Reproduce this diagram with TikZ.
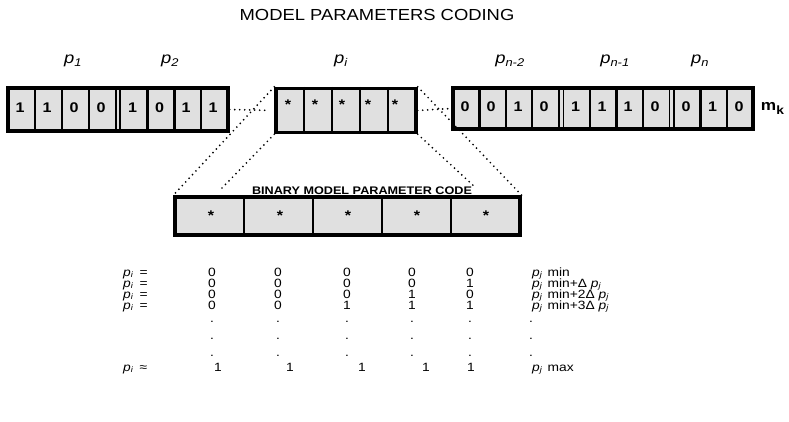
\documentclass[tikz,border=0pt]{standalone}
\usepackage{fontspec}
\setmainfont{Liberation Sans}[FakeStretch=1.15]
\usetikzlibrary{positioning}
\newcommand{\pp}[1]{\textit{p}\textsubscript{\textit{#1}}}

\begin{document}
\begin{tikzpicture}[
  x=1pt, y=-1pt,
  blk/.style={rectangle, draw=black, fill=black!12, line width=3.4pt,
    inner sep=0pt},
  sep/.style={line width=2.4pt},
  thinsep/.style={line width=1.8pt},
  dsep/.style={line width=1.5pt},
  bit/.style={font=\fontsize{14}{14}\selectfont\bfseries, inner sep=0pt},
  plabel/.style={font=\fontsize{16}{16}\selectfont, anchor=base, inner sep=0pt},
  cell/.style={font=\fontsize{12}{12}\selectfont, anchor=base, inner sep=0pt},
  dotline/.style={line width=1.9pt, line cap=round, dash pattern=on 0pt off 5pt},
]
  \useasboundingbox (0,0) rectangle (789,422);

  % Title and parameter names
  \node[font=\fontsize{16}{16}\selectfont, anchor=base] (title) at (377,21) {MODEL PARAMETERS CODING};
  \node[plabel] (p1) at (73,64) {\pp{1}};
  \node[plabel] (p2) at (170,64) {\pp{2}};
  \node[plabel] (pi) at (341,64) {\pp{i}};
  \node[plabel] (pn2) at (510,64) {\pp{n-2}};
  \node[plabel] (pn1) at (615,64) {\pp{n-1}};
  \node[plabel] (pn) at (700,64) {\pp{n}};

  % Chromosome m_k
  \node[blk, minimum width=220pt, minimum height=43pt] (leftblk) at (118,109.5) {};
  \node[blk, minimum width=140pt, minimum height=44pt] (midblk) at (346,110.5) {};
  \node[blk, minimum width=300pt, minimum height=41pt] (rightblk) at (603,108.5) {};
  \node[font=\fontsize{15}{15}\selectfont\bfseries, inner sep=0pt, right=6pt of rightblk] (mk)
    {m\raisebox{-4pt}{\fontsize{12}{12}\selectfont k}};

  \foreach \x in {34.9,61.8,88.7,147.4,174.3,201.2}
    \draw[sep] (\x,0 |- leftblk.north) -- (\x,0 |- leftblk.south);
  \foreach \x in {116,120}
    \draw[dsep] (\x,0 |- leftblk.north) -- (\x,0 |- leftblk.south);
  \foreach \d/\x [count=\i] in {1/20,1/47,0/74,0/101,1/132.5,0/159.5,1/186,1/213}
    \node[bit] (lbit\i) at (\x,107.5) {\d};

  \foreach \x in {304,332,360,388}
    \draw[sep] (\x,0 |- midblk.north) -- (\x,0 |- midblk.south);
  \foreach \x [count=\i] in {288,315,342,368,395}
    \node[bit] (mbit\i) at (\x,105) {*};

  \foreach \x in {479.4,505.8,532.2,590,616.4,642.8,700.6,727}
    \draw[sep] (\x,0 |- rightblk.north) -- (\x,0 |- rightblk.south);
  \foreach \x in {559,563.5,669.5,674}
    \draw[dsep] (\x,0 |- rightblk.north) -- (\x,0 |- rightblk.south);
  \foreach \d/\x [count=\i] in {0/465,0/491,1/518,0/544,1/575.5,1/602,1/628,0/655,0/686,1/712.5,0/739}
    \node[bit] (rbit\i) at (\x,106.5) {\d};

  % Binary code of one parameter
  \node[font=\fontsize{11}{11}\selectfont\bfseries, anchor=base] (code) at (362,194) {BINARY MODEL PARAMETER CODE};
  \node[blk, minimum width=345pt, minimum height=38pt] (lowblk) at (347.5,216) {};
  \foreach \x in {244,313,382,451}
    \draw[thinsep] (\x,0 |- lowblk.north) -- (\x,0 |- lowblk.south);
  \foreach \x [count=\i] in {211,280,348,417,486}
    \node[bit] (cbit\i) at (\x,216) {*};

  % Dotted links
  \coordinate (innL) at (222,188);
  \coordinate (innR) at (476,188);
  \draw[dotline, shorten >=9pt] (leftblk.east) -- (midblk.west);
  \draw[dotline] (midblk.east) -- (rightblk.west);
  \draw[dotline] (midblk.north west) -- (lowblk.north west);
  \draw[dotline] (midblk.north east) -- (lowblk.north east);
  \draw[dotline] (midblk.south west) -- (innL);
  \draw[dotline] (midblk.south east) -- (innR);

  % Table of codes
  \foreach \yy [count=\r] in {276,287,298,309}
    \node[cell, anchor=base west] (lab\r) at (123,\yy) {\pp{i}\hspace{6pt}=};
  \node[cell, anchor=base west] (labmax) at (123,371) {\pp{i}\hspace{6pt}≈};
  \foreach \x/\ra/\rb/\rc/\rd/\xl [count=\c] in
      {212/0/0/0/0/218, 278/0/0/0/0/290, 347/0/0/0/1/362, 412/0/0/1/1/426, 470/0/1/0/1/471} {
    \node[cell] (ta\c) at (\x,276) {\ra};
    \node[cell] (tb\c) at (\x,287) {\rb};
    \node[cell] (tc\c) at (\x,298) {\rc};
    \node[cell] (td\c) at (\x,309) {\rd};
    \foreach \yy [count=\k] in {322,339,356}
      \node[cell] (dot\c\k) at (\x,\yy) {.};
    \node[cell] (te\c) at (\xl,371) {1};
  }
  \node[cell, anchor=base west] (vmin) at (532,276) {\pp{j}\hspace{5pt}min};
  \node[cell, anchor=base west] (v1) at (532,287) {\pp{j}\hspace{5pt}min+Δ \pp{j}};
  \node[cell, anchor=base west] (v2) at (532,298) {\pp{j}\hspace{5pt}min+2Δ \pp{j}};
  \node[cell, anchor=base west] (v3) at (532,309) {\pp{j}\hspace{5pt}min+3Δ \pp{j}};
  \foreach \yy [count=\k] in {322,339,356}
    \node[cell, anchor=base west] (vdot\k) at (529,\yy) {.};
  \node[cell, anchor=base west] (vmax) at (532,371) {\pp{j}\hspace{5pt}max};
\end{tikzpicture}
\end{document}
